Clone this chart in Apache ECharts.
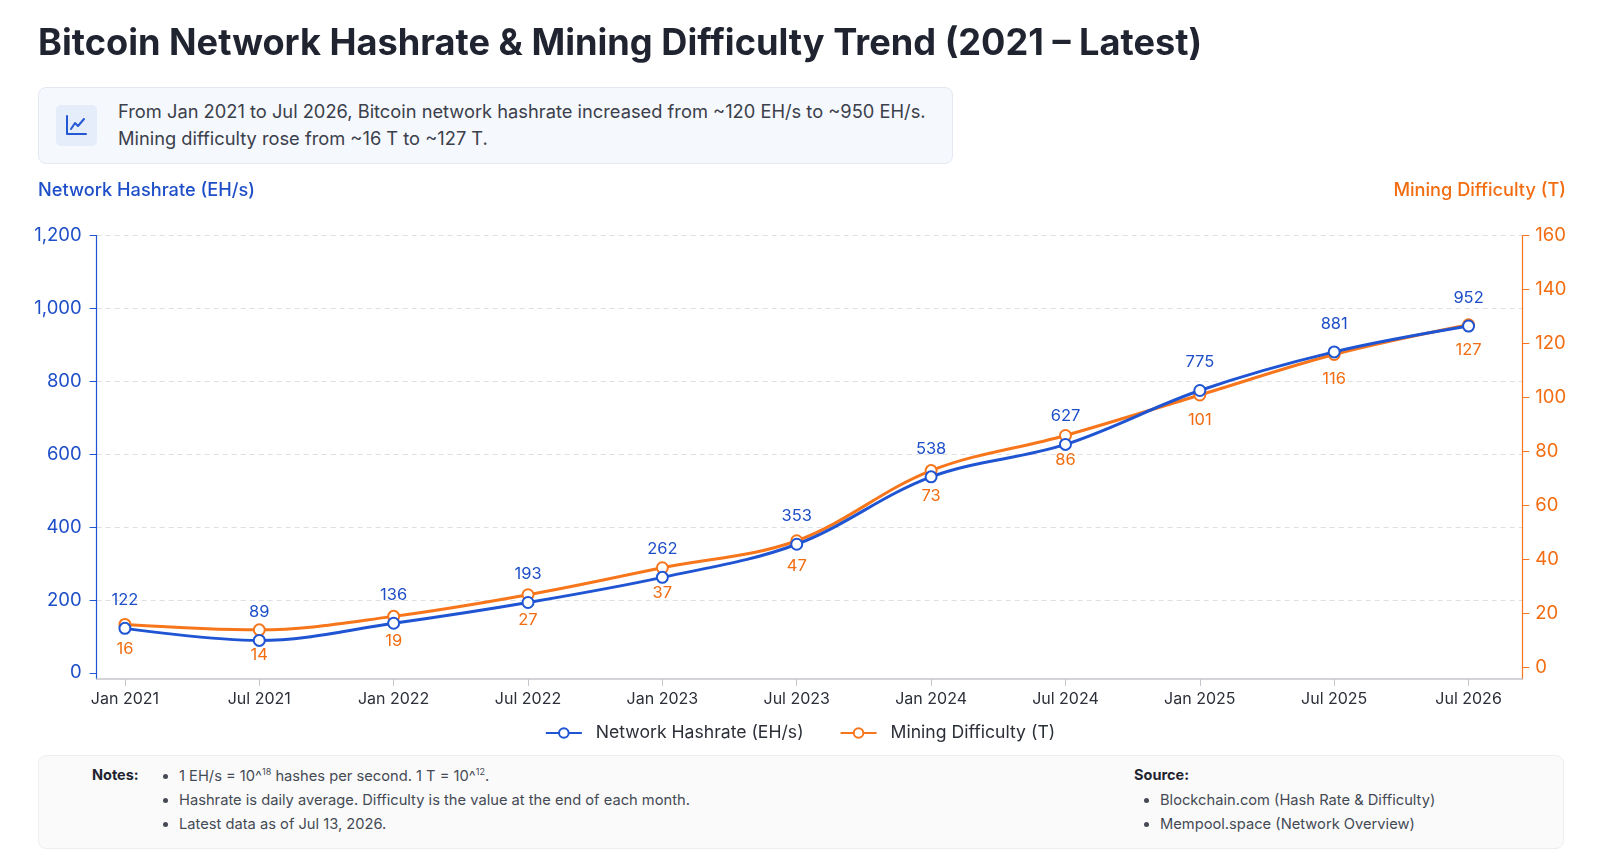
<!DOCTYPE html>
<html>
<head>
<meta charset="utf-8">
<title>Bitcoin Network Hashrate &amp; Mining Difficulty</title>
<script src="https://cdn.jsdelivr.net/npm/echarts@6/dist/echarts.min.js"></script>
<style>
  html, body { margin: 0; padding: 0; background: #fff; }
  body { width: 1600px; height: 856px; position: relative; overflow: hidden; font-family: Inter, "Noto Sans", sans-serif; }
  #main { position: absolute; left: 0; top: 0; width: 1600px; height: 856px; }
  .title { position: absolute; left: 38px; top: 20px; font-size: 36.2px; font-weight: 700; color: #1f2430; z-index: 2; white-space: nowrap; }
  .summary { position: absolute; left: 38px; top: 87px; width: 915px; height: 77px; box-sizing: border-box; background: #f5f8fd; border: 1px solid #e3e8f2; border-radius: 8px; z-index: 2; }
  .summary .icon { position: absolute; left: 17px; top: 17px; width: 41px; height: 41px; background: #e6edfa; border-radius: 5px; }
  .summary .icon svg { position: absolute; left: 8px; top: 8px; }
  .summary .text { position: absolute; left: 79px; top: 10px; font-size: 18.3px; line-height: 26.5px; color: #3b404b; white-space: nowrap; }
  .notes { position: absolute; left: 38px; top: 755px; width: 1526px; height: 94px; box-sizing: border-box; background: #fafafb; border: 1px solid #eceef1; border-radius: 8px; z-index: 2; font-size: 14.7px; color: #454a54; }
  .notes .head { position: absolute; top: 10px; font-size: 14.5px; font-weight: 700; color: #1f2430; }
  .notes ul { position: absolute; top: 8px; margin: 0; padding: 0 0 0 25px; list-style: disc; }
  .notes li { line-height: 24px; white-space: nowrap; }
  .notes sup { font-size: 9px; line-height: 0; vertical-align: 0; position: relative; top: -6px; }
</style>
</head>
<body>
<div id="main"></div>
<div class="title">Bitcoin Network Hashrate &amp; Mining Difficulty Trend (2021 – Latest)</div>
<div class="summary">
  <div class="icon">
    <svg width="25" height="25" viewBox="0 0 25 25" fill="none" stroke="#2457d3" stroke-width="2" stroke-linecap="round" stroke-linejoin="round">
      <path d="M3 3 V21 H22"/>
      <path d="M7 16 L11 10 L14 13 L20 6"/>
    </svg>
  </div>
  <div class="text">From Jan 2021 to Jul 2026, Bitcoin network hashrate increased from ~120 EH/s to ~950 EH/s.<br>Mining difficulty rose from ~16 T to ~127 T.</div>
</div>
<div class="notes">
  <div class="head" style="left:53px">Notes:</div>
  <ul style="left:115px">
    <li>1 EH/s = 10^<sup>18</sup> hashes per second. 1 T = 10^<sup>12</sup>.</li>
    <li>Hashrate is daily average. Difficulty is the value at the end of each month.</li>
    <li>Latest data as of Jul 13, 2026.</li>
  </ul>
  <div class="head" style="left:1095px">Source:</div>
  <ul style="left:1096px; top:32px">
    <li>Blockchain.com (Hash Rate &amp; Difficulty)</li>
    <li>Mempool.space (Network Overview)</li>
  </ul>
</div>
<script>
// data
const periods = ['Jan 2021', 'Jul 2021', 'Jan 2022', 'Jul 2022', 'Jan 2023', 'Jul 2023',
  'Jan 2024', 'Jul 2024', 'Jan 2025', 'Jul 2025', 'Jul 2026'];
const hashrate = [122, 89, 136, 193, 262, 353, 538, 627, 775, 881, 952];   // EH/s
const difficulty = [16, 14, 19, 27, 37, 47, 73, 86, 101, 116, 127];        // T
const hashTicks = [0, 200, 400, 600, 800, 1000, 1200];
const diffTicks = [0, 20, 40, 60, 80, 100, 120, 140, 160];

const BLUE = '#1f54d2';
const BLUE_TXT = '#1e4fc8';
const ORANGE = '#f7761c';
const ORANGE_TXT = '#f26d12';
const GRID_LINE = '#dcdfe4';

const chart = echarts.init(document.getElementById('main'), null, { renderer: 'canvas' });
const idx = periods.map((p, i) => i);
// no dashed line on the zero tick
const splitColors = hashTicks.map((t, i) => (i === 0 ? 'rgba(0,0,0,0)' : GRID_LINE));

const option = {
  animation: false,
  textStyle: { fontFamily: 'Inter, "Noto Sans", sans-serif' },
  grid: { left: 96.7, right: 77.7, top: 235.7, bottom: 177 },
  graphic: [
    { type: 'text', left: 38, top: 182, style: { text: 'Network Hashrate (EH/s)', fontSize: 18.2, fontWeight: 500, fill: BLUE_TXT, fontFamily: 'Inter' } },
    { type: 'text', right: 34, top: 182, style: { text: 'Mining Difficulty (T)', fontSize: 18.2, fontWeight: 500, fill: ORANGE_TXT, fontFamily: 'Inter' } }
  ],
  legend: {
    top: 719,
    left: 'center',
    itemWidth: 36,
    itemHeight: 12,
    itemGap: 36,
    textStyle: { fontSize: 17.6, color: '#2b2f38', padding: [0, 0, 0, 9] },
    data: ['Network Hashrate (EH/s)', 'Mining Difficulty (T)']
  },
  xAxis: {
    type: 'value',
    min: -0.21,
    max: 10.4,
    axisLine: { onZero: false, lineStyle: { color: '#c3c6cc', width: 1.5 } },
    axisTick: { show: true, length: 7, customValues: idx, lineStyle: { color: '#c3c6cc' } },
    axisLabel: { customValues: idx, margin: 12, fontSize: 16, color: '#2b2f38', formatter: v => periods[v] },
    splitLine: { show: false }
  },
  yAxis: [
    {
      type: 'value',
      min: -17,
      max: 1200,
      position: 'left',
      axisLine: { show: true, onZero: false, lineStyle: { color: BLUE, width: 1.2 } },
      axisTick: { show: true, length: 7, customValues: hashTicks, lineStyle: { color: BLUE } },
      axisLabel: { customValues: hashTicks, margin: 15, fontSize: 18.5, color: BLUE_TXT, formatter: v => v.toLocaleString('en-US') },
      splitLine: { show: true, lineStyle: { color: splitColors, type: [5, 4] } }
    },
    {
      type: 'value',
      min: -4.2,
      max: 160,
      position: 'right',
      axisLine: { show: true, onZero: false, lineStyle: { color: ORANGE, width: 1.2 } },
      axisTick: { show: true, length: 7, customValues: diffTicks, lineStyle: { color: ORANGE } },
      axisLabel: { customValues: diffTicks, margin: 13, fontSize: 18.5, color: ORANGE_TXT },
      splitLine: { show: false }
    }
  ],
  series: [
    {
      name: 'Network Hashrate (EH/s)',
      type: 'line',
      yAxisIndex: 0,
      smooth: 0.35,
      data: hashrate.map((v, i) => [i, v]),
      symbol: 'emptyCircle',
      symbolSize: 11,
      lineStyle: { color: BLUE, width: 3 },
      itemStyle: { color: BLUE, borderWidth: 2.5 },
      label: { show: true, position: 'top', distance: 13, fontSize: 16.5, color: BLUE_TXT, formatter: p => p.value[1] },
      z: 3
    },
    {
      name: 'Mining Difficulty (T)',
      type: 'line',
      yAxisIndex: 1,
      smooth: 0.35,
      data: difficulty.map((v, i) => [i, v]),
      symbol: 'emptyCircle',
      symbolSize: 11,
      lineStyle: { color: ORANGE, width: 3 },
      itemStyle: { color: ORANGE, borderWidth: 2.5 },
      label: { show: true, position: 'bottom', distance: 10, fontSize: 16.5, color: ORANGE_TXT, formatter: p => p.value[1] },
      z: 2
    }
  ]
};
chart.setOption(option);
</script>
</body>
</html>
